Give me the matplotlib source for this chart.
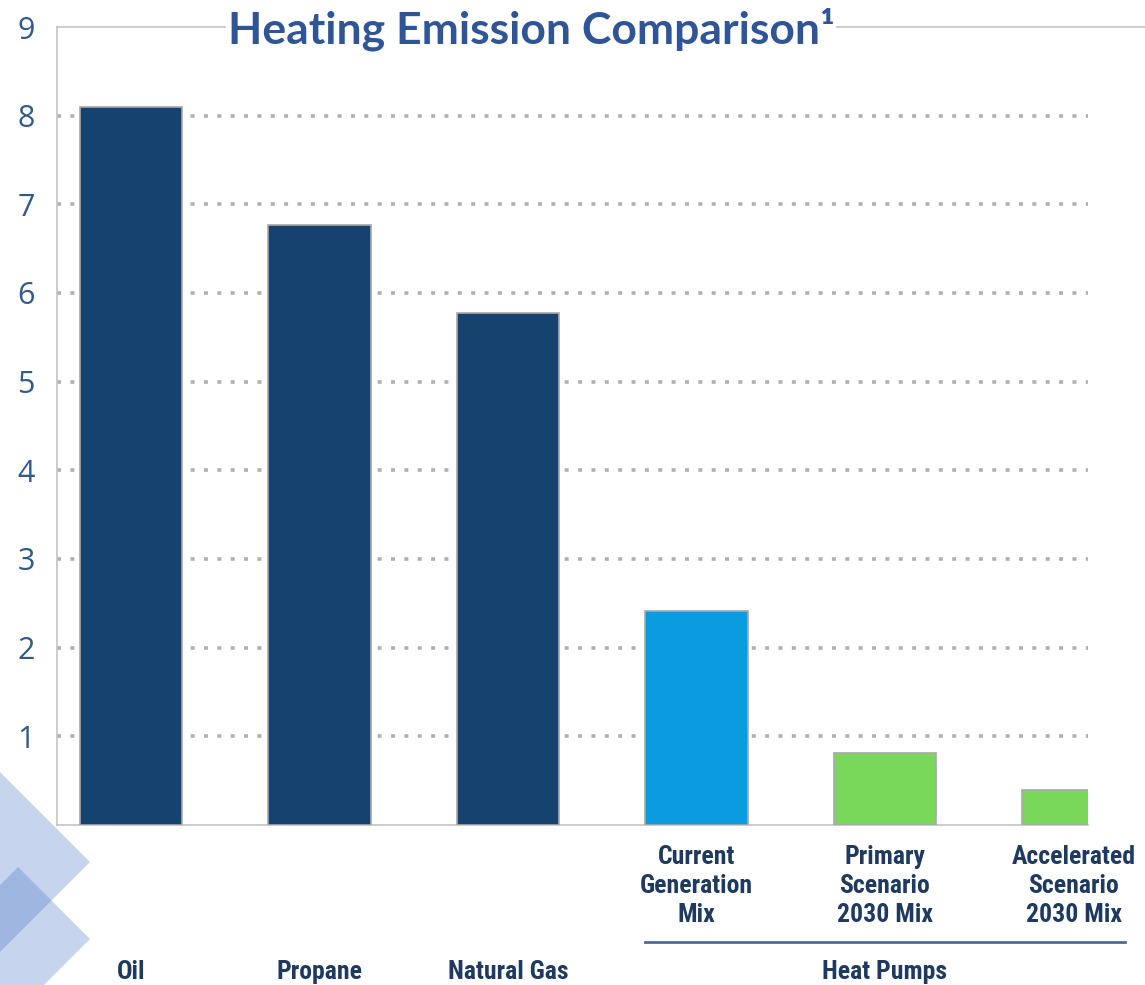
import matplotlib
matplotlib.use("Agg")
import matplotlib.pyplot as plt
from matplotlib.patches import Polygon
from matplotlib.lines import Line2D

categories = ["Oil", "Propane", "Natural Gas", "Current\nGeneration\nMix",
              "Primary\nScenario\n2030 Mix", "Accelerated\nScenario\n2030 Mix"]
values = [8.1, 6.77, 5.78, 2.41, 0.81, 0.40]
bar_colors = ["#15426e", "#15426e", "#15426e", "#0b9ce0", "#79d85a", "#79d85a"]
group_label = "Heat Pumps"
yticks = [1, 2, 3, 4, 5, 6, 7, 8, 9]
title = "Heating Emission Comparison\u00b9"

W, H = 1145, 985
fig = plt.figure(figsize=(W / 100, H / 100), dpi=100)

def fx(px):
    return px / W

def fy(py):
    return 1 - py / H

# decorative diamonds
for cx, cy, r in [(-5, 862, 95), (18, 939, 72)]:
    pts = [(fx(cx + r), fy(cy)), (fx(cx), fy(cy - r)), (fx(cx - r), fy(cy)), (fx(cx), fy(cy + r))]
    fig.patches.append(Polygon(pts, closed=True, transform=fig.transFigure,
                               facecolor="#4472c4", alpha=0.3, edgecolor="none", zorder=0))

ax = fig.add_axes([fx(57), fy(825), fx(1088) - fx(57), fy(27) - fy(825)])
x = list(range(len(values)))
ax.bar(x, values, width=0.546, color=bar_colors, edgecolor="#a8a8a8", linewidth=1.2, zorder=3)
ax.set_xlim(-0.3926, 5.077)
ax.set_ylim(0, 9)
ax.set_yticks(yticks)
ax.set_yticklabels([str(t) for t in yticks], fontsize=22, color="#2f5a8a", family="Open Sans")
ax.tick_params(axis="y", length=0, pad=16)
ax.set_xticks([])
for g in yticks[:-1]:
    ax.axhline(g, color="#b0b0b0", linewidth=2.6, linestyle=(0, (1.1, 2.6)), zorder=1)
ax.spines["right"].set_visible(False)
ax.spines["top"].set_visible(False)
ax.spines["left"].set_color("#c4c4c4")
ax.spines["left"].set_linewidth(1.2)
ax.spines["bottom"].set_color("#c4c4c4")
ax.spines["bottom"].set_linewidth(1.2)

# top border line across figure
fig.add_artist(Line2D([fx(57), 1.0], [fy(27), fy(27)], color="#c4c4c4", linewidth=1.2,
                      transform=fig.transFigure, zorder=1))

fig.text(fx(531), fy(29), title, ha="center", va="center", fontsize=32, fontweight="bold",
         color="#2f5597", family="Lato", zorder=5,
         bbox=dict(facecolor="white", edgecolor="none", pad=1))

lab_font = dict(family=["Roboto Condensed", "Roboto", "DejaVu Sans"], fontweight="bold",
                color="#1f3a60", fontsize=18.5)
centers = [131 + 188.5 * i for i in range(6)]
for i in range(3):
    fig.text(fx(centers[i]), fy(972), categories[i], ha="center", va="center", **lab_font)
for i in range(3, 6):
    fig.text(fx(centers[i]), fy(886), categories[i], ha="center", va="center",
             linespacing=1.25, **lab_font)
fig.text(fx(885), fy(972), group_label, ha="center", va="center", **lab_font)
fig.add_artist(Line2D([fx(645), fx(1125)], [fy(942), fy(942)], color="#4d6b92", linewidth=2,
                      transform=fig.transFigure))

fig.savefig("out.png", dpi=100)
